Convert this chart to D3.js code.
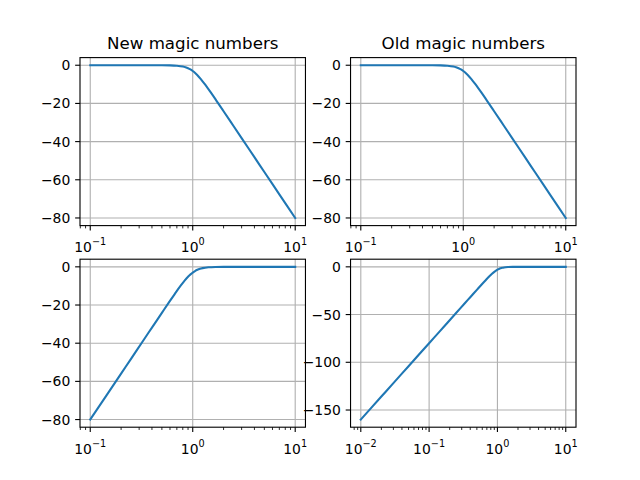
<!DOCTYPE html>
<html>
<head>
<meta charset="utf-8">
<script src="https://cdn.jsdelivr.net/npm/d3@7"></script>
<style>
  body { margin: 0; background: #fff; }
  text { font-family: "DejaVu Sans", sans-serif; fill: #000; }
</style>
</head>
<body>
<div id="chart"></div>
<script>
const width = 640;
const height = 480;

const titles = ["New magic numbers", "Old magic numbers"];

// low-pass response (dB)
const lpFreq = [0.1, 0.2, 0.3, 0.4, 0.5, 0.6, 0.7, 0.8, 0.85, 0.9, 0.95, 1.0, 1.05, 1.1, 1.2, 1.3, 1.5, 1.7, 2, 2.5, 3, 4, 5, 7, 10];
const lpDb = [0, 0, 0, -0.01, -0.02, -0.07, -0.24, -0.67, -1.05, -1.56, -2.21, -3.01, -3.94, -4.97, -7.24, -9.62, -14.25, -18.5, -24.1, -31.84, -38.17, -48.17, -55.92, -67.61, -80];

// high-pass response (dB), bottom left
const hpFreq = [0.1, 0.143, 0.2, 0.25, 0.333, 0.4, 0.5, 0.588, 0.667, 0.769, 0.833, 0.909, 0.952, 1.0, 1.053, 1.111, 1.176, 1.25, 1.429, 1.667, 2, 2.5, 3.333, 5, 10];
const hpDb = [-80, -67.61, -55.92, -48.17, -38.17, -31.84, -24.1, -18.5, -14.25, -9.62, -7.24, -4.97, -3.94, -3.01, -2.21, -1.56, -1.05, -0.67, -0.24, -0.07, -0.02, -0.01, 0, 0, 0];

// high-pass response over three decades, bottom right
const hpWideFreq = [0.01, 0.014, 0.02, 0.03, 0.05, 0.07, 0.1, 0.143, 0.2, 0.25, 0.333, 0.4, 0.5, 0.588, 0.667, 0.769, 0.833, 0.909, 0.952, 1.0, 1.053, 1.111, 1.176, 1.25, 1.429, 1.667, 2, 2.5, 3.333, 5, 10];
const hpWideDb = [-160, -148.3, -135.9, -121.8, -104.1, -92.4, -80, -67.61, -55.92, -48.17, -38.17, -31.84, -24.1, -18.5, -14.25, -9.62, -7.24, -4.97, -3.94, -3.01, -2.21, -1.56, -1.05, -0.67, -0.24, -0.07, -0.02, -0.01, 0, 0, 0];

const yTicksNarrow = [0, -20, -40, -60, -80];
const yTicksWide = [0, -50, -100, -150];

// matplotlib default subplot geometry (2x2)
const figLeft = 80, figRight = 576, figTop = 57.6, figBottom = 427.2;
const axW = (figRight - figLeft) / 2.2, axH = (figBottom - figTop) / 2.2;
const gapX = axW * 0.2, gapY = axH * 0.2;

const panels = [
  { row: 0, col: 0, freq: lpFreq, db: lpDb, yTicks: yTicksNarrow, title: titles[0] },
  { row: 0, col: 1, freq: lpFreq, db: lpDb, yTicks: yTicksNarrow, title: titles[1] },
  { row: 1, col: 0, freq: hpFreq, db: hpDb, yTicks: yTicksNarrow },
  { row: 1, col: 1, freq: hpWideFreq, db: hpWideDb, yTicks: yTicksWide }
];

const majorLen = 4.86, minorLen = 2.78, pad = 4.86;
const fs = 13.9;

const svg = d3.create("svg")
    .attr("width", width)
    .attr("height", height)
    .attr("viewBox", `0 0 ${width} ${height}`);

svg.append("rect").attr("width", width).attr("height", height).attr("fill", "#fff");

panels.forEach((p, i) => {
  const x0 = figLeft + p.col * (axW + gapX);
  const y0 = figTop + p.row * (axH + gapY);
  const g = svg.append("g").attr("transform", `translate(${x0},${y0})`);

  // 5% margins like matplotlib autoscale
  const lx = d3.extent(p.freq).map(Math.log10);
  const mx = (lx[1] - lx[0]) * 0.05;
  const x = d3.scaleLog()
      .domain([Math.pow(10, lx[0] - mx), Math.pow(10, lx[1] + mx)])
      .range([0, axW]);
  const ey = d3.extent(p.db);
  const my = (ey[1] - ey[0]) * 0.05;
  const y = d3.scaleLinear()
      .domain([ey[0] - my, ey[1] + my])
      .range([axH, 0]);

  const majors = x.ticks().filter(v => Math.abs(Math.log10(v) - Math.round(Math.log10(v))) < 1e-9);
  const minors = x.ticks().filter(v => majors.indexOf(v) < 0);

  // grid
  const grid = g.append("g").attr("stroke", "#b0b0b0").attr("stroke-width", 1.11);
  majors.forEach(v => {
    grid.append("line").attr("x1", x(v)).attr("x2", x(v)).attr("y1", 0).attr("y2", axH);
  });
  p.yTicks.forEach(v => {
    grid.append("line").attr("x1", 0).attr("x2", axW).attr("y1", y(v)).attr("y2", y(v));
  });

  // data line
  const clipId = "clip" + i;
  g.append("clipPath").attr("id", clipId)
    .append("rect").attr("width", axW).attr("height", axH);
  const line = d3.line()
      .x((d, k) => x(p.freq[k]))
      .y(d => y(d))
      .curve(d3.curveMonotoneX);
  g.append("path")
      .datum(p.db)
      .attr("clip-path", `url(#${clipId})`)
      .attr("fill", "none")
      .attr("stroke", "#1f77b4")
      .attr("stroke-width", 2.08)
      .attr("stroke-linejoin", "round")
      .attr("stroke-linecap", "square")
      .attr("d", line);

  // spines
  g.append("rect")
      .attr("width", axW).attr("height", axH)
      .attr("fill", "none").attr("stroke", "#000").attr("stroke-width", 1.11);

  // y axis
  const yAxis = g.append("g");
  p.yTicks.forEach(v => {
    yAxis.append("line").attr("x1", -majorLen).attr("x2", 0)
      .attr("y1", y(v)).attr("y2", y(v))
      .attr("stroke", "#000").attr("stroke-width", 1.11);
    yAxis.append("text")
      .attr("x", -majorLen - pad)
      .attr("y", y(v))
      .attr("dy", "0.36em")
      .attr("text-anchor", "end")
      .style("font-size", fs + "px")
      .text(v < 0 ? "\u2212" + Math.abs(v) : String(v));
  });

  // x axis
  const xAxis = g.append("g").attr("transform", `translate(0,${axH})`);
  minors.forEach(v => {
    xAxis.append("line").attr("x1", x(v)).attr("x2", x(v))
      .attr("y1", 0).attr("y2", minorLen)
      .attr("stroke", "#000").attr("stroke-width", 0.83);
  });
  majors.forEach(v => {
    xAxis.append("line").attr("x1", x(v)).attr("x2", x(v))
      .attr("y1", 0).attr("y2", majorLen)
      .attr("stroke", "#000").attr("stroke-width", 1.11);
    const e = Math.round(Math.log10(v));
    const t = xAxis.append("text")
      .attr("x", x(v))
      .attr("y", 26.5)
      .attr("text-anchor", "middle")
      .style("font-size", fs + "px");
    t.append("tspan").text("10");
    t.append("tspan")
      .attr("dy", -7)
      .style("font-size", "9.7px")
      .text(e < 0 ? "\u2212" + Math.abs(e) : String(e));
  });

  if (p.title) {
    g.append("text")
      .attr("x", axW / 2)
      .attr("y", -8.33)
      .attr("text-anchor", "middle")
      .style("font-size", "16.67px")
      .text(p.title);
  }
});

document.getElementById("chart").appendChild(svg.node());
</script>
</body>
</html>
